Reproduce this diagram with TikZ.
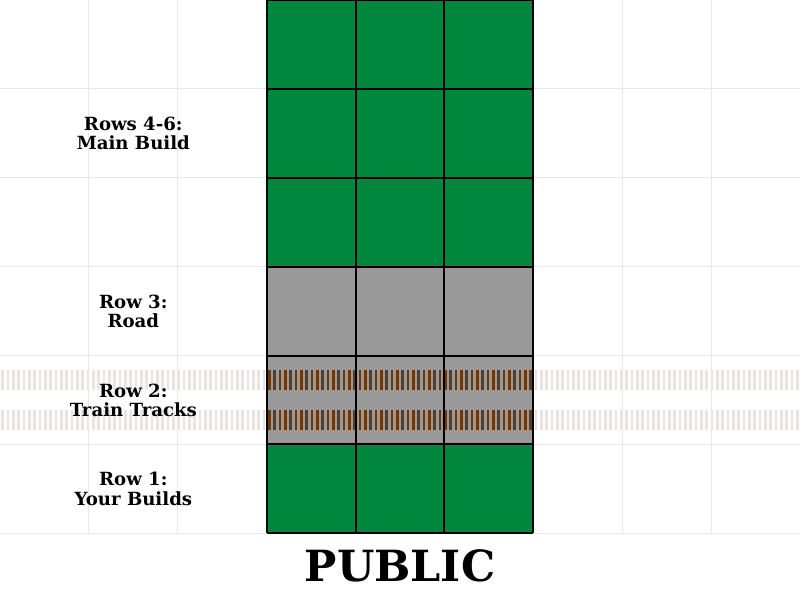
\documentclass[tikz,border=0pt]{standalone}
\usepackage{fontspec}
\setmainfont{DejaVu Serif}
\usepackage{tikz}
\usetikzlibrary{positioning}
\definecolor{lotgreen}{RGB}{0, 135, 62}
\definecolor{roadgray}{RGB}{153, 153, 153}
\definecolor{tiebrown}{RGB}{105, 58, 18}
\definecolor{tiefaint}{RGB}{236, 228, 226}
\definecolor{gridgray}{RGB}{232, 232, 232}

\begin{document}
\begin{tikzpicture}[x=2cm, y=2cm,
  cell/.style={fill=#1, minimum size=2cm, inner sep=0pt, outer sep=0pt},
  rowlabel/.style={font=\bfseries\fontsize{11.6}{12.2}\selectfont, align=center}]
  \useasboundingbox (0,0) rectangle (9,6.75);
  \fill[white] (0,0) rectangle (9,6.75);
  % background grid
  \foreach \gx in {1,...,8}
    \draw[gridgray, line width=0.6pt] (\gx,0.75) -- (\gx,6.75);
  \foreach \gy in {0.75,1.75,...,5.75}
    \draw[gridgray, line width=0.6pt] (0,\gy) -- (9,\gy);
  % faint ties across the whole width
  \foreach \y in {1.9125, 2.3625} {
    \foreach \i in {0,...,149}
      \fill[tiefaint] ({\i*0.06+0.015},\y) rectangle +(0.03,0.225);
  }
  % lot cells
  \foreach \r/\c in {1/lotgreen, 2/roadgray, 3/roadgray, 4/lotgreen, 5/lotgreen, 6/lotgreen} {
    \foreach \k in {1,2,3}
      \node[cell=\c] (cell\r\k) at (2.5+\k, \r+0.25) {};
  }
  % tracks over the lot
  \begin{scope}
    \clip (3,1.75) rectangle (6,2.75);
    \foreach \y in {1.9125, 2.3625} {
      \foreach \i in {0,...,149}
        \fill[tiebrown] ({\i*0.06+0.015},\y) rectangle +(0.03,0.225);
    }
  \end{scope}
  \foreach \gx in {3,4,5,6}
    \draw[black, line width=1.3pt] (\gx,0.75) -- (\gx,6.75);
  \foreach \gy in {0.75,1.75,...,6.75}
    \draw[black, line width=1.3pt] (3,\gy) -- (6,\gy);
  % labels
  \node[rowlabel] (mainbuild) at (1.5,5.25) {Rows 4-6:\\Main Build};
  \node[rowlabel] (road) at (1.5,3.25) {Row 3:\\Road};
  \node[rowlabel] (tracks) at (1.5,2.25) {Row 2:\\Train Tracks};
  \node[rowlabel] (yourbuilds) at (1.5,1.25) {Row 1:\\Your Builds};
  \node[font=\bfseries\fontsize{27.5}{33}\selectfont] (public) at (4.5,0.38) {PUBLIC};
\end{tikzpicture}
\end{document}
